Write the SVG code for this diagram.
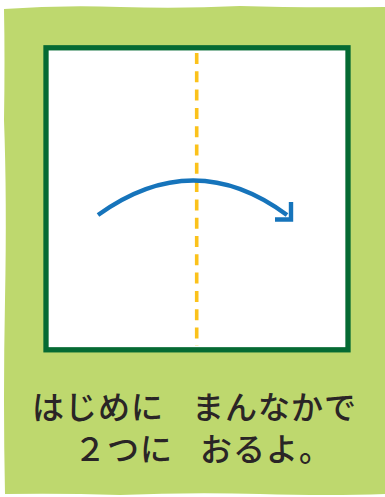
<svg xmlns="http://www.w3.org/2000/svg" width="385" height="497" viewBox="0 0 385 497">
<style>
.txt{font-family:"Noto Sans CJK JP","Noto Sans CJK SC",sans-serif;font-size:32px;font-weight:500;fill:#2a2526;letter-spacing:1px}
.blue{fill:none;stroke:#1674bb;stroke-width:4.4}
</style>
<g id="background">
<path d="M4 9 Q60 5 120 7 T240 6 Q300 8 385 7 L385 494 Q330 496 260 494 T120 495 Q60 493 5 494 Q3 400 5 300 T4 120 Q5 60 4 9 Z" fill="#bed86e"/>
</g>
<g id="paper">
<rect x="46" y="47.8" width="302" height="302" fill="#ffffff" stroke="#056a33" stroke-width="5.3"/>
<line x1="196.7" y1="53" x2="196.7" y2="346" stroke="#fbc21b" stroke-width="3.6" stroke-dasharray="11 7.3"/>
</g>
<g id="connectors">
<path class="blue" d="M98 215 Q194 146 287 215"/>
<path class="blue" d="M275 219.5 L291 219.5 L291 202" stroke-width="5" stroke-linejoin="miter"/>
</g>
<g id="caption">
<text class="txt" x="32" y="419">はじめに</text>
<text class="txt" x="192" y="419">まんなかで</text>
<text class="txt" x="74" y="461">２つに</text>
<text class="txt" x="200" y="461">おるよ。</text>
</g>
</svg>
